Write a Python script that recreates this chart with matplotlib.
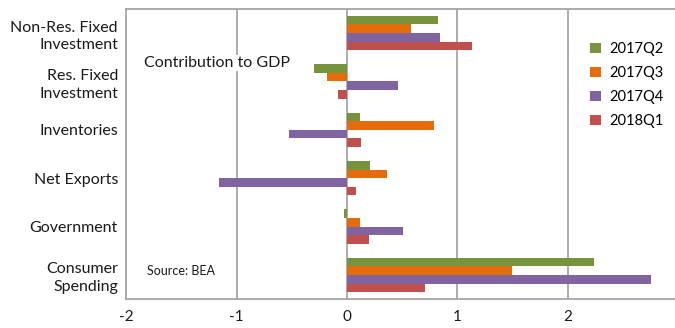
import matplotlib

matplotlib.use("Agg")

import numpy as np
import matplotlib.pyplot as plt

categories = ["Non-Res. Fixed\nInvestment", "Res. Fixed\nInvestment", "Inventories",
              "Net Exports", "Government", "Consumer\nSpending"]
series_names = ["2017Q2", "2017Q3", "2017Q4", "2018Q1"]
q2_2017 = [0.82, -0.30, 0.12, 0.21, -0.03, 2.24]
q3_2017 = [0.58, -0.18, 0.79, 0.36, 0.12, 1.49]
q4_2017 = [0.84, 0.46, -0.53, -1.16, 0.51, 2.75]
q1_2018 = [1.13, -0.08, 0.13, 0.08, 0.20, 0.71]
x_ticks = [-2, -1, 0, 1, 2]

GREEN = "#77933C"
ORANGE = "#E46C0A"
PURPLE = "#8064A2"
RED = "#C0504D"
GRID = "#A6A6A6"
TEXT = "#1a1a1a"

plt.rcParams["font.family"] = ["Lato", "DejaVu Sans"]

fig = plt.figure(figsize=(6.75, 3.28), dpi=100)
ax = fig.add_axes([0.187, 0.088, 0.813, 0.885])

y = np.arange(len(categories))
bar_h = 0.178
values = [q2_2017, q3_2017, q4_2017, q1_2018]
colours = [GREEN, ORANGE, PURPLE, RED]
for k, (vals, c, name) in enumerate(zip(values, colours, series_names)):
    ax.barh(y - 1.5 * bar_h + k * bar_h, vals, height=bar_h, color=c,
            label=name, zorder=3)

ax.set_xlim(-2, 2.97)
ax.set_ylim(len(categories) - 0.5, -0.5)
ax.set_xticks(x_ticks)
ax.set_xticklabels([str(t) for t in x_ticks], fontsize=11, color=TEXT)
ax.set_yticks(y)
ax.set_yticklabels(categories, fontsize=11.5, color=TEXT, ha="right",
                   multialignment="right", linespacing=1.35)
ax.tick_params(length=0, pad=6)
ax.tick_params(axis="x", pad=8)

for t in [-1, 0, 1, 2]:
    ax.axvline(t, color=GRID, linewidth=1.3, zorder=1)
for spine in ("left", "top", "bottom"):
    ax.spines[spine].set_color(GRID)
    ax.spines[spine].set_linewidth(1.3)
ax.spines["right"].set_visible(False)

ax.text(-1.84, 0.62, "Contribution to GDP", fontsize=11.5, color=TEXT,
        va="center", ha="left", zorder=4,
        bbox=dict(facecolor="white", edgecolor="none", pad=1))
ax.text(-1.81, 4.92, "Source: BEA", fontsize=9, color=TEXT,
        va="center", ha="left", zorder=4)

ax.legend(loc="upper left", bbox_to_anchor=(0.822, 0.93), frameon=False,
          fontsize=10.5, handlelength=0.7, handleheight=0.7,
          labelspacing=0.68, handletextpad=0.6)

fig.savefig("out.png", dpi=100, facecolor="white")
